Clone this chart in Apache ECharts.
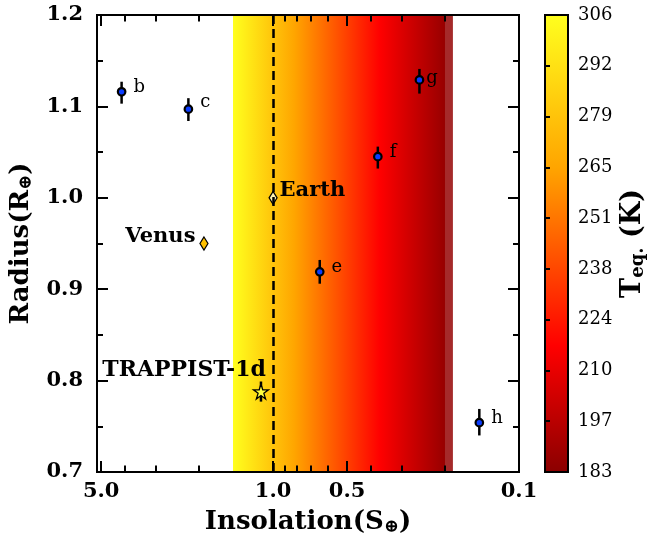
<!DOCTYPE html>
<html>
<head>
<meta charset="utf-8">
<script src="https://cdn.jsdelivr.net/npm/echarts@6/dist/echarts.min.js"></script>
<style>
  html, body { margin: 0; padding: 0; background: #fff; }
  #chart { width: 649px; height: 544px; }
</style>
</head>
<body>
<div id="chart"></div>
<script>
// TRAPPIST-1 planets: radius against stellar insolation, with the temperate band
// shaded by equilibrium temperature and a matching colour bar.

// Planets with measured radii (Earth units) and insolation (Earth units)
const planetNames = ['b', 'c', 'e', 'f', 'g', 'h'];
const planetInsolation = [4.13, 2.21, 0.646, 0.375, 0.254, 0.145];
const planetRadius = [1.116, 1.097, 0.919, 1.045, 1.129, 0.754];
const planetErrUp = [0.011, 0.012, 0.013, 0.011, 0.012, 0.015];
const planetErrDown = [0.013, 0.013, 0.013, 0.013, 0.015, 0.014];

// The highlighted planet
const featuredName = ['TRAPPIST-1d'];
const featuredInsolation = [1.12];
const featuredRadius = [0.788];
const featuredErr = [0.011];

// Solar-system references
const solarNames = ['Earth', 'Venus'];
const solarInsolation = [1.0, 1.91];
const solarRadius = [1.0, 0.95];

// Axis ticks
const xMajorTicks = [5, 1, 0.5, 0.1];
const xMinorTicks = [4, 3, 2, 0.9, 0.8, 0.7, 0.6, 0.4, 0.3, 0.2];
const teqTickLabels = ['183', '197', '210', '224', '238', '251', '265', '279', '292', '306'];

// Equilibrium-temperature colour scale (K)
const teqRange = [183, 306];
const cmapTemps = [183, 217, 265, 306];
const cmapColors = ['#8b0000', '#ff0000', '#ffa500', '#ffff1e'];
const coldEdgeStart = 0.2; // insolation where the outermost strip begins

const FONT = 'DejaVu Serif';
const teqToInsolation = t => Math.pow(t / 278.6, 4);

const lnHot = Math.log(teqRange[1]);
const lnCold = Math.log(teqRange[0]);
const bandStops = cmapTemps
  .map((t, i) => ({ offset: (lnHot - Math.log(t)) / (lnHot - lnCold), color: cmapColors[i] }))
  .sort((a, b) => a.offset - b.offset);
const barStops = cmapTemps
  .map((t, i) => ({ offset: (teqRange[1] - t) / (teqRange[1] - teqRange[0]), color: cmapColors[i] }))
  .sort((a, b) => a.offset - b.offset);

const sHot = teqToInsolation(teqRange[1]);
const sCold = teqToInsolation(teqRange[0]);

const labelNudge = { b: [0, -4], c: [0, -7], e: [0, -5], f: [0, -4], g: [-5, -2], h: [0, -4] };

const tickText = { fontFamily: FONT, fontSize: 21, fontWeight: 'bold', color: '#000' };
const titleText = {
  fontFamily: FONT, fontSize: 26, fontWeight: 'bold', color: '#000',
  rich: {
    sub: { fontFamily: FONT, fontSize: 18, fontWeight: 'bold', color: '#000', verticalAlign: 'bottom', padding: [10, 0, 0, 0] }
  }
};

const xRange = { min: 0.1, max: 5.2 };
function xAxisLayer(position, ticks, len, extra) {
  return Object.assign({
    type: 'log', logBase: 10, gridIndex: 0, position: position, inverse: true,
    min: xRange.min, max: xRange.max, z: 10,
    axisLine: { show: false, onZero: false },
    axisTick: { show: true, inside: true, length: len, customValues: ticks, lineStyle: { color: '#000', width: 2 } },
    axisLabel: { show: false },
    splitLine: { show: false },
    minorTick: { show: false },
    minorSplitLine: { show: false }
  }, extra || {});
}
function yAxisLayer(position, extra) {
  return Object.assign({
    type: 'value', gridIndex: 0, position: position, min: 0.7, max: 1.2, interval: 0.1, z: 10,
    axisLine: { show: false, onZero: false },
    axisTick: { show: true, inside: true, length: 11, lineStyle: { color: '#000', width: 2 } },
    minorTick: { show: true, splitNumber: 2, length: 6, lineStyle: { color: '#000', width: 2 } },
    axisLabel: { show: false },
    splitLine: { show: false }
  }, extra || {});
}

const option = {
  animation: false,
  backgroundColor: '#fff',
  grid: [
    { left: 97, top: 15, width: 422, height: 457, show: true, z: 10, borderColor: '#000', borderWidth: 2, backgroundColor: 'transparent' },
    { left: 545, top: 15, width: 23, height: 457, show: true, z: 10, borderColor: '#000', borderWidth: 2, backgroundColor: 'transparent' }
  ],
  xAxis: [
    xAxisLayer('bottom', xMajorTicks, 11, {
      axisLabel: Object.assign({ show: true, customValues: xMajorTicks, margin: 9, formatter: v => Number(v).toFixed(1) }, tickText),
      name: 'Insolation(S{sub|⊕})', nameLocation: 'middle', nameGap: 36, nameTextStyle: titleText
    }),
    xAxisLayer('bottom', xMinorTicks, 6.5),
    xAxisLayer('top', xMajorTicks, 11),
    xAxisLayer('top', xMinorTicks, 6.5),
    { type: 'value', gridIndex: 1, min: 0, max: 1, show: false }
  ],
  yAxis: [
    yAxisLayer('left', {
      axisLabel: Object.assign({ show: true, margin: 14, formatter: v => v.toFixed(1) }, tickText),
      name: 'Radius(R{sub|⊕})', nameLocation: 'middle', nameGap: 58, nameTextStyle: titleText
    }),
    yAxisLayer('right'),
    {
      type: 'value', gridIndex: 1, position: 'right', min: 0, max: 9, interval: 1, z: 10,
      axisLine: { show: false },
      axisTick: { show: true, inside: false, length: 5, lineStyle: { color: '#000', width: 2 } },
      axisLabel: { show: true, margin: 10, fontFamily: FONT, fontSize: 18, color: '#000', formatter: v => teqTickLabels[Math.round(v)] },
      splitLine: { show: false },
      name: 'T{sub|eq.} (K)', nameLocation: 'middle', nameGap: 51, nameTextStyle: Object.assign({}, titleText, { fontSize: 27 })
    }
  ],
  series: [
    {
      // temperate band coloured by equilibrium temperature, and Earth's insolation
      type: 'scatter', xAxisIndex: 0, yAxisIndex: 0, data: [], z: 1, silent: true,
      markArea: {
        silent: true,
        data: [
          [{ xAxis: sHot, itemStyle: { color: { type: 'linear', x: 0, y: 0, x2: 1, y2: 0, colorStops: bandStops } } }, { xAxis: sCold }],
          [{ xAxis: coldEdgeStart, itemStyle: { color: '#a52a2a' } }, { xAxis: sCold }]
        ]
      },
      markLine: {
        silent: true, symbol: ['none', 'none'], label: { show: false },
        lineStyle: { color: '#000', width: 2.5, type: [9, 5] },
        data: [{ xAxis: 1 }]
      }
    },
    {
      // vertical error bars on radius
      type: 'custom', xAxisIndex: 0, yAxisIndex: 0, z: 3, silent: true,
      data: planetInsolation.map((s, i) => [s, planetRadius[i] - planetErrDown[i], planetRadius[i] + planetErrUp[i]])
        .concat(featuredInsolation.map((s, i) => [s, featuredRadius[i] - featuredErr[i], featuredRadius[i] + featuredErr[i]])),
      encode: { x: 0, y: [1, 2] },
      renderItem: (params, api) => {
        const lo = api.coord([api.value(0), api.value(1)]);
        const hi = api.coord([api.value(0), api.value(2)]);
        return { type: 'line', shape: { x1: lo[0], y1: lo[1], x2: hi[0], y2: hi[1] }, style: { stroke: '#000', lineWidth: 2.5 } };
      }
    },
    {
      type: 'scatter', xAxisIndex: 0, yAxisIndex: 0, z: 4, silent: true,
      symbol: 'circle', symbolSize: 7.5,
      itemStyle: { color: '#0a3cff', borderColor: '#000', borderWidth: 2.2, opacity: 1 },
      label: { show: true, position: 'right', distance: 7, formatter: '{b}', fontFamily: FONT, fontSize: 18, color: '#000' },
      data: planetNames.map((n, i) => ({ name: n, value: [planetInsolation[i], planetRadius[i]], label: { offset: labelNudge[n] } }))
    },
    {
      type: 'scatter', xAxisIndex: 0, yAxisIndex: 0, z: 4, silent: true,
      symbol: 'path://M50,2 L61.2,36.6 L97.6,36.6 L68.2,58 L79.4,92.6 L50,71.2 L20.6,92.6 L31.8,58 L2.4,36.6 L38.8,36.6 Z',
      symbolSize: 15,
      itemStyle: { color: '#ffff40', borderColor: '#000', borderWidth: 1.3, opacity: 1 },
      label: { show: true, position: 'left', distance: 0, offset: [13, -21], formatter: '{b}', fontFamily: FONT, fontSize: 22, fontWeight: 'bold', color: '#000' },
      data: featuredName.map((n, i) => ({ name: n, value: [featuredInsolation[i], featuredRadius[i]] }))
    },
    {
      type: 'scatter', xAxisIndex: 0, yAxisIndex: 0, z: 4, silent: true,
      symbol: 'diamond', symbolSize: [8, 13],
      itemStyle: { borderColor: '#000', borderWidth: 1.3, opacity: 1 },
      label: { show: true, formatter: '{b}', fontFamily: FONT, fontSize: 21, fontWeight: 'bold', color: '#000' },
      data: solarNames.map((n, i) => ({
        name: n, value: [solarInsolation[i], solarRadius[i]],
        itemStyle: { color: n === 'Earth' ? '#fff3b0' : '#ffc000' },
        label: n === 'Earth'
          ? { position: 'right', distance: 2, offset: [0, -7] }
          : { position: 'left', distance: 4, offset: [0, -7] }
      }))
    },
    {
      // colour bar
      type: 'scatter', xAxisIndex: 4, yAxisIndex: 2, data: [], z: 1, silent: true,
      markArea: {
        silent: true,
        data: [[{ yAxis: 9, itemStyle: { color: { type: 'linear', x: 0, y: 0, x2: 0, y2: 1, colorStops: barStops } } }, { yAxis: 0 }]]
      }
    }
  ]
};

echarts.init(document.getElementById('chart'), null, { renderer: 'canvas' }).setOption(option);
</script>
</body>
</html>
